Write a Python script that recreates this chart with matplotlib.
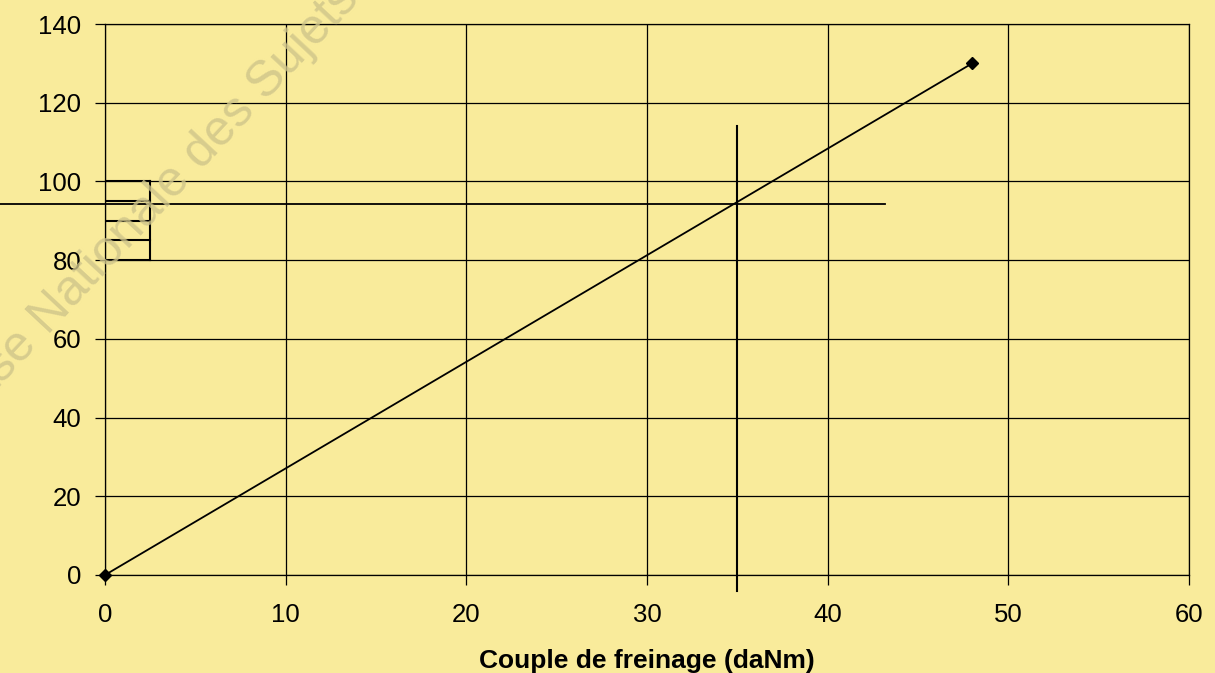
import numpy as np
import matplotlib.pyplot as plt

plt.rcParams['font.family'] = ['Liberation Sans', 'DejaVu Sans']

# courbe
couple = [0, 48]
valeur = [0, 130]

# lecture graphique
lecture_x = 35
lecture_y = 94.3
h_x = [-5.8, 43.2]
v_y = [-4, 114]

# petites cases a gauche
cases_y = [80, 85, 90, 95, 100]
cases_x = [0, 2.5]

fond = "#f9eb9b"

fig = plt.figure(figsize=(12.15, 6.73), dpi=100, facecolor=fond)
ax = fig.add_axes([105 / 1215, 1 - 575 / 673, 1084 / 1215, 551 / 673])
ax.set_facecolor(fond)

ax.plot(couple, valeur, color="black", lw=1.3, marker="D", ms=6, zorder=3, clip_on=False)

ax.plot(h_x, [lecture_y, lecture_y], color="black", lw=1.3, clip_on=False)
ax.plot([lecture_x, lecture_x], v_y, color="black", lw=1.5, clip_on=False)

for yc in cases_y:
    ax.plot(cases_x, [yc, yc], color="black", lw=1.5)
ax.plot([cases_x[1], cases_x[1]], [cases_y[0], cases_y[-1]], color="black", lw=1.5)

ax.set_xlim(0, 60)
ax.set_ylim(0, 140)
ax.set_xticks(np.arange(0, 61, 10))
ax.set_yticks(np.arange(0, 141, 20))
ax.grid(True, color="black", lw=0.9)
for s in ax.spines.values():
    s.set_linewidth(0.9)
ax.tick_params(direction="out", length=7, width=0.9, labelsize=18.5)
ax.tick_params(axis="x", pad=13)
ax.tick_params(axis="y", pad=10)
ax.set_xlabel("Couple de freinage (daNm)", fontsize=19, fontweight="bold", labelpad=16)

fig.text(-0.032, 0.362, "Base Nationale des Sujets d'Examens", rotation=47,
         rotation_mode="anchor", fontsize=36, color="#cfc58a", alpha=0.8,
         ha="left", va="baseline", zorder=0)

fig.savefig("out.png", dpi=100, facecolor=fond)
